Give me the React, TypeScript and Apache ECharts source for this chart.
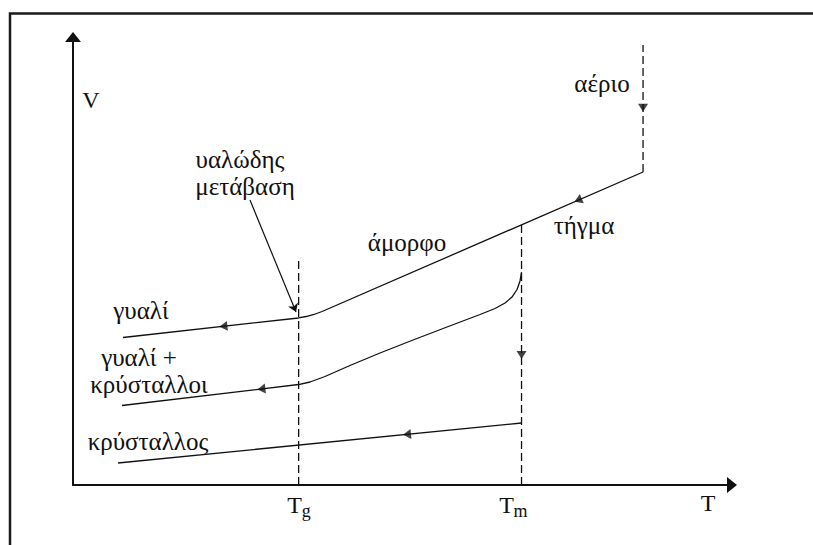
import React, { useEffect, useRef } from "react";
import * as echarts from "echarts";

// Data (T, V in arbitrary units)
const glassT = [7.25, 32.68, 33.77, 34.93, 36.09, 82.61];
const glassV = [32.92, 37.28, 37.61, 38.06, 38.73, 69.87];

const gasT = [82.61, 82.61];
const gasV = [69.87, 98.2];

const glassCrystT = [7.1, 32.68, 34.35, 36.52, 40.14, 44.49, 49.28, 54.2, 58.99, 61.16, 62.61, 63.62, 64.35, 64.78, 65.0];
const glassCrystV = [17.75, 22.43, 22.99, 24.22, 26.67, 29.46, 32.37, 35.27, 38.06, 39.4, 40.63, 41.96, 43.64, 45.54, 47.54];

const crystalT = [6.52, 65.0];
const crystalV = [4.91, 13.84];

const Tg = 32.7;
const Tm = 65.0;
const tgLineV = [0, 50];
const tmLineV = [0, 58.1];

const arrowT = [21.8, 27.3, 48.4, 73.2, 82.61, 65.0];
const arrowV = [35.42, 21.45, 11.3, 63.57, 84.2, 29.0];
const arrowAngle = [186.3, 186.8, 185.7, 203.5, 270, 270];

const pointerT = [25.65, 32.32];
const pointerV = [63.6, 38.62];

const tickValues = [Tg, Tm];
const tickMain = ["T", "T"];
const tickSub = ["g", "m"];

const zip = (a: number[], b: number[]) => a.map((v, i) => [v, b[i]]);

const INK = "#111";
const FONT = '"Liberation Serif", "DejaVu Serif", serif';

export default function App() {
  const ref = useRef<HTMLDivElement>(null);
  useEffect(() => {
    if (!ref.current) return;
    const chart = echarts.init(ref.current, undefined, { renderer: "svg" });
    const solid = { color: INK, width: 1.3 };
    const dashed = { color: INK, width: 1.3, type: [8, 4] as any };
    const axisLine = {
      show: true,
      symbol: ["none", "triangle"],
      symbolSize: [16, 10],
      lineStyle: { color: INK, width: 2 },
    };
    chart.setOption({
      animation: false,
      backgroundColor: "#fff",
      grid: { left: 73, top: 37, width: 659, height: 448 },
      xAxis: {
        type: "value", min: 0, max: 95.5,
        axisLine, axisTick: { show: false }, axisLabel: { show: false }, splitLine: { show: false },
      },
      yAxis: {
        type: "value", min: 0, max: 100,
        axisLine, axisTick: { show: false }, axisLabel: { show: false }, splitLine: { show: false },
      },
      series: [
        { type: "line", data: zip(glassT, glassV), symbol: "none", lineStyle: solid, silent: true },
        { type: "line", data: zip(gasT, gasV), symbol: "none", lineStyle: dashed, silent: true },
        { type: "line", data: zip(glassCrystT, glassCrystV), symbol: "none", lineStyle: solid, silent: true },
        { type: "line", data: zip(crystalT, crystalV), symbol: "none", lineStyle: solid, silent: true },
        { type: "line", data: tgLineV.map((v) => [Tg, v]), symbol: "none", lineStyle: dashed, silent: true },
        { type: "line", data: tmLineV.map((v) => [Tm, v]), symbol: "none", lineStyle: dashed, silent: true },
        {
          type: "scatter",
          silent: true,
          symbol: "path://M0,0L10,5L0,10Z",
          symbolSize: [8, 10],
          itemStyle: { color: INK },
          data: arrowT.map((t, i) => ({ value: [t, arrowV[i]], symbolRotate: arrowAngle[i] })),
        },
        {
          type: "lines",
          coordinateSystem: "cartesian2d",
          silent: true,
          symbol: ["none", "arrow"],
          symbolSize: 8,
          lineStyle: { color: INK, width: 1.2, opacity: 1 },
          data: [{ coords: zip(pointerT, pointerV) }],
        },
      ],
    });

    const txt = (text: string, x: number, y: number, size = 25, align = "center") => ({
      type: "text",
      x,
      y,
      silent: true,
      style: {
        text,
        fill: INK,
        fontSize: size,
        fontFamily: FONT,
        textAlign: align,
        textVerticalAlign: "middle",
        align,
        verticalAlign: "middle",
      },
    });

    const tickShift = [-4, -15];
    const ticks: any[] = [];
    tickValues.forEach((v, i) => {
      const px = (chart.convertToPixel({ xAxisIndex: 0 }, v) as number) + tickShift[i];
      ticks.push(txt(tickMain[i], px, 505, 24));
      ticks.push(txt(tickSub[i], px + 7, 511, 18, "left"));
    });

    chart.setOption({
      graphic: [
        {
          type: "rect",
          silent: true,
          shape: { x: 10, y: 13.5, width: 900, height: 700 },
          style: { fill: "none", stroke: "#1a1a1a", lineWidth: 2.5 },
        },
        txt("V", 91, 100, 24),
        txt("υαλώδης", 240, 159),
        txt("μετάβαση", 245, 186),
        txt("αέριο", 602, 83),
        txt("άμορφο", 407, 242),
        txt("τήγμα", 584, 225),
        txt("γυαλί", 141, 310),
        txt("γυαλί +", 139, 357),
        txt("κρύσταλλοι", 149, 384),
        txt("κρύσταλλος", 148, 441),
        txt("T", 708, 503, 24),
        ...ticks,
      ],
    });
    return () => chart.dispose();
  }, []);
  return (
    <div
      ref={ref}
      style={{ position: "absolute", left: 0, top: 0, width: 813, height: 545, background: "#fff" }}
    />
  );
}
